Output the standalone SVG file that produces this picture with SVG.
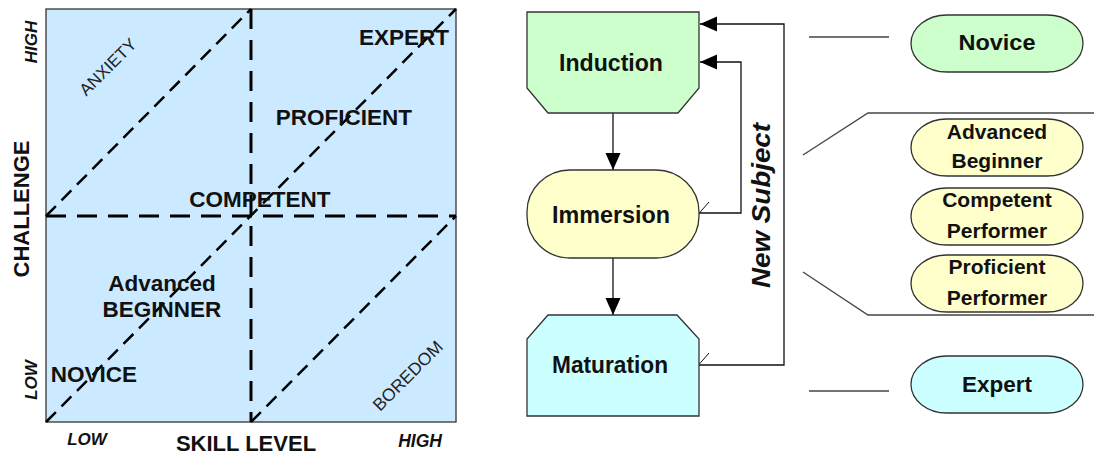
<svg xmlns="http://www.w3.org/2000/svg" width="1094" height="456" viewBox="0 0 1094 456">
  <defs>
    <style>
      .lbl { font-family: "Liberation Sans", Arial, sans-serif; font-weight: bold; fill: #111; }
      .ital { font-style: italic; }
      .thin { font-family: "Liberation Sans", Arial, sans-serif; font-weight: normal; fill: #222; }
      .grid { stroke: #000; stroke-width: 3; stroke-dasharray: 20 11; fill: none; }
      .diag { stroke: #000; stroke-width: 2.5; stroke-dasharray: 14 8; fill: none; }
      .shape { stroke: #333; stroke-width: 1.3; }
      .conn { stroke: #111; stroke-width: 1.3; fill: none; }
      .tick { stroke: #111; stroke-width: 1; fill: none; }
      .brace { stroke: #444; stroke-width: 1.3; fill: none; }
      .green { fill: #ccffcc; }
      .yellow { fill: #ffffcc; }
      .cyan { fill: #ccffff; }
    </style>
    <marker id="arrow" markerUnits="userSpaceOnUse" markerWidth="18" markerHeight="16" refX="17" refY="7.5" orient="auto">
      <path d="M0,0 L17,7.5 L0,15 Z" fill="#000"/>
    </marker>
  </defs>

  <!-- Skill / challenge chart -->
  <g id="chart">
    <rect x="46" y="9" width="410" height="413" fill="#cceaff" stroke="#333" stroke-width="1.3"/>
    <line class="grid" x1="251" y1="9" x2="251" y2="422"/>
    <line class="grid" x1="46" y1="216" x2="456" y2="216"/>
    <line class="diag" x1="46" y1="216" x2="251" y2="9"/>
    <line class="diag" x1="46" y1="422" x2="456" y2="9"/>
    <line class="diag" x1="251" y1="422" x2="456" y2="216"/>

    <text class="lbl" x="404" y="45" font-size="22.5" text-anchor="middle">EXPERT</text>
    <text class="lbl" x="344" y="125" font-size="22.5" text-anchor="middle">PROFICIENT</text>
    <text class="lbl" x="260" y="207" font-size="22.5" text-anchor="middle">COMPETENT</text>
    <text class="lbl" x="162" y="291" font-size="22.5" text-anchor="middle">Advanced</text>
    <text class="lbl" x="162" y="317" font-size="22.5" text-anchor="middle">BEGINNER</text>
    <text class="lbl" x="94" y="382" font-size="22.5" text-anchor="middle">NOVICE</text>

    <text class="thin" font-size="17" text-anchor="middle" transform="translate(112,71) rotate(-45)">ANXIETY</text>
    <text class="thin" font-size="17.5" text-anchor="middle" transform="translate(412,380) rotate(-45)">BOREDOM</text>

    <text class="lbl" font-size="22" text-anchor="middle" transform="translate(29,209) rotate(-90)">CHALLENGE</text>
    <text class="lbl ital" font-size="17" text-anchor="middle" transform="translate(37,42) rotate(-90)">HIGH</text>
    <text class="lbl ital" font-size="17" text-anchor="middle" transform="translate(37,380) rotate(-90)">LOW</text>

    <text class="lbl" x="246" y="451" font-size="22" text-anchor="middle">SKILL LEVEL</text>
    <text class="lbl ital" x="87" y="445" font-size="17" text-anchor="middle">LOW</text>
    <text class="lbl ital" x="420" y="447" font-size="17.5" text-anchor="middle">HIGH</text>
  </g>

  <!-- Connectors -->
  <g id="connectors">
    <line class="conn" x1="613" y1="113" x2="613" y2="170" marker-end="url(#arrow)"/>
    <line class="conn" x1="613" y1="258" x2="613" y2="315" marker-end="url(#arrow)"/>
    <polyline class="conn" points="699,213 741,213 741,62 700,62" marker-end="url(#arrow)"/>
    <polyline class="conn" points="699,365 784,365 784,24 700,24" marker-end="url(#arrow)"/>
    <line class="tick" x1="688" y1="226" x2="709" y2="202"/>
    <line class="tick" x1="688" y1="377" x2="709" y2="353"/>
    <line class="brace" x1="809" y1="37" x2="889" y2="37"/>
    <polyline class="brace" points="803,155 868,113 1094,113"/>
    <polyline class="brace" points="803,272 868,315 1094,315"/>
    <line class="brace" x1="809" y1="391" x2="889" y2="391"/>
  </g>

  <text class="lbl ital" font-size="25" text-anchor="middle" textLength="165" lengthAdjust="spacingAndGlyphs" transform="translate(770,205.5) rotate(-90)">New Subject</text>

  <!-- Process stages -->
  <g id="induction">
    <polygon class="shape green" points="527,12 699,12 699,88 678,113 548,113 527,88"/>
    <text class="lbl" x="611" y="71" font-size="23.5" text-anchor="middle" textLength="104" lengthAdjust="spacingAndGlyphs">Induction</text>
  </g>
  <g id="immersion">
    <rect class="shape yellow" x="527" y="170" width="172" height="88" rx="43" ry="42"/>
    <text class="lbl" x="611" y="223" font-size="23.5" text-anchor="middle" textLength="118" lengthAdjust="spacingAndGlyphs">Immersion</text>
  </g>
  <g id="maturation">
    <polygon class="shape cyan" points="548,315 677,315 699,339 699,416 527,416 527,339"/>
    <text class="lbl" x="610" y="373" font-size="23.5" text-anchor="middle" textLength="116" lengthAdjust="spacingAndGlyphs">Maturation</text>
  </g>

  <!-- Skill stages -->
  <g id="novice">
    <rect class="shape green" x="911" y="15" width="172" height="57" rx="36" ry="28.5"/>
    <text class="lbl" x="997" y="50" font-size="22.5" text-anchor="middle" textLength="77" lengthAdjust="spacingAndGlyphs">Novice</text>
  </g>
  <g id="advanced-beginner">
    <rect class="shape yellow" x="911" y="119" width="172" height="57" rx="36" ry="28.5"/>
    <text class="lbl" x="997" y="139" font-size="21" text-anchor="middle">Advanced</text>
    <text class="lbl" x="997" y="168" font-size="21" text-anchor="middle">Beginner</text>
  </g>
  <g id="competent-performer">
    <rect class="shape yellow" x="911" y="188" width="172" height="57" rx="36" ry="28.5"/>
    <text class="lbl" x="997" y="207" font-size="21" text-anchor="middle">Competent</text>
    <text class="lbl" x="997" y="238" font-size="21" text-anchor="middle">Performer</text>
  </g>
  <g id="proficient-performer">
    <rect class="shape yellow" x="911" y="255" width="172" height="57" rx="36" ry="28.5"/>
    <text class="lbl" x="997" y="274" font-size="21" text-anchor="middle">Proficient</text>
    <text class="lbl" x="997" y="305" font-size="21" text-anchor="middle">Performer</text>
  </g>
  <g id="expert">
    <rect class="shape cyan" x="911" y="356" width="172" height="57" rx="36" ry="28.5"/>
    <text class="lbl" x="997" y="392" font-size="22.5" text-anchor="middle" textLength="70" lengthAdjust="spacingAndGlyphs">Expert</text>
  </g>
</svg>
